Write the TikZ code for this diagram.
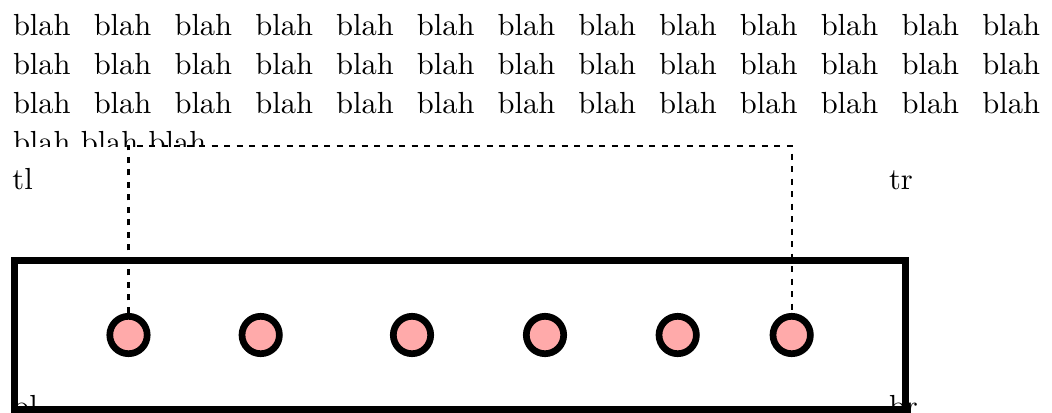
\documentclass[tikz,border=0pt]{standalone}
\definecolor{dotpink}{RGB}{255,170,170}
\tikzset{
  linetext/.style={anchor=base west, inner sep=0pt, outer sep=0pt},
  cornerlabel/.style={anchor=base west, inner sep=0pt, outer sep=0pt},
  dot/.style={circle, draw=black, line width=2.2pt, fill=dotpink, minimum size=12.26pt, inner sep=0pt},
  frame/.style={draw=black, line width=2.3pt},
  link/.style={draw=black, line width=0.75pt, dash pattern=on 2pt off 2.1pt}
}
\begin{document}
\begin{tikzpicture}[x=0.3279pt,y=-0.3279pt]
\useasboundingbox (0,0) rectangle (1052,412);
\begin{scope}
\clip (0,0) rectangle (1052,146);
\node[linetext] (l1) at (13,35) {\makebox[336.75pt][s]{blah blah blah blah blah blah blah blah blah blah blah blah blah}};
\node[linetext] (l2) at (13,74) {\makebox[336.75pt][s]{blah blah blah blah blah blah blah blah blah blah blah blah blah}};
\node[linetext] (l3) at (13,113) {\makebox[336.75pt][s]{blah blah blah blah blah blah blah blah blah blah blah blah blah}};
\node[linetext] (l4) at (13,152) {blah blah blah};
\end{scope}
\node[cornerlabel] (tl) at (12.5,189) {tl};
\node[cornerlabel] (tr) at (889,189) {tr};
\node[cornerlabel] (bl) at (12.5,416) {bl};
\node[cornerlabel] (br) at (889,416) {br};
\path[frame] (14.7,260) rectangle (905.5,409);
\node[dot] (c1) at (128.5,335) {};
\node[dot] (c2) at (260.7,335) {};
\node[dot] (c3) at (412,335) {};
\node[dot] (c4) at (545,335) {};
\node[dot] (c5) at (677.7,335) {};
\node[dot] (c6) at (791.7,335) {};
\coordinate (top) at (460,146);
\path[link] (c1.north) |- (top) -| (c6.north);
\end{tikzpicture}
\end{document}
